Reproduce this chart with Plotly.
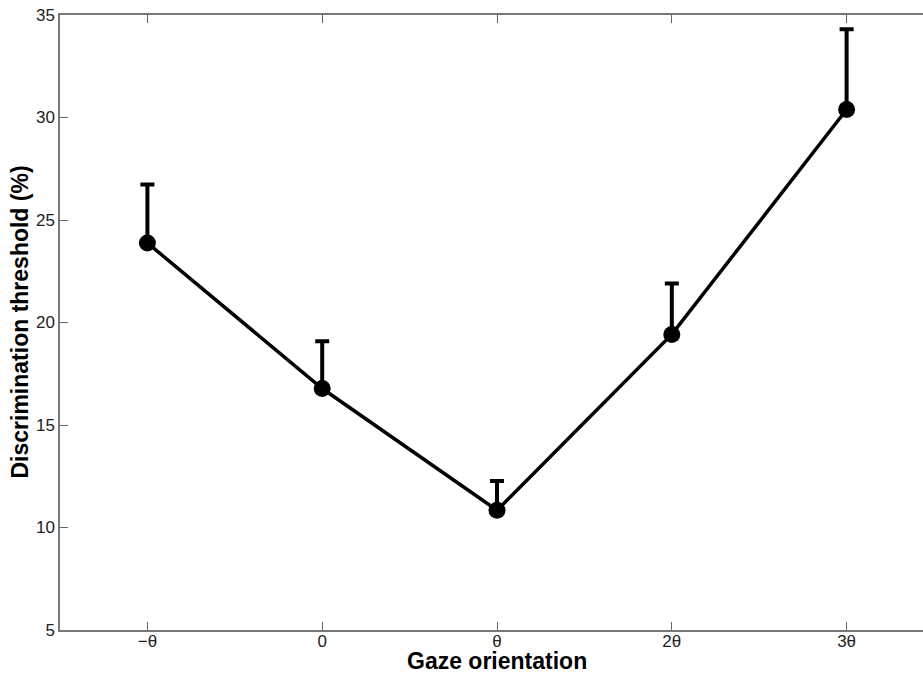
import plotly.graph_objects as go

categories = ["\u2212\u03b8", "0", "\u03b8", "2\u03b8", "3\u03b8"]
x_pos = [0, 1, 2, 3, 4]
thresholds = [23.88, 16.78, 10.84, 19.42, 30.39]
upper_err = [26.73, 19.08, 12.27, 21.90, 34.30]
y_ticks = [5, 10, 15, 20, 25, 30, 35]
x_title = "Gaze orientation"
y_title = "Discrimination threshold (%)"

err_plus = [u - t for u, t in zip(upper_err, thresholds)]

fig = go.Figure()
fig.add_trace(go.Scatter(
    x=x_pos, y=thresholds,
    mode="lines+markers",
    line=dict(color="black", width=3.5),
    marker=dict(color="black", size=17),
    error_y=dict(type="data", symmetric=False, array=err_plus,
                 arrayminus=[0] * len(err_plus),
                 color="black", thickness=4, width=7),
    showlegend=False,
))

axis_font = dict(family="Liberation Sans, Arial, sans-serif", size=17, color="#222")
title_font = dict(family="Liberation Sans, Arial, sans-serif", size=23, color="black")

fig.update_layout(
    width=923, height=674,
    margin=dict(l=60, r=0, t=15, b=44),
    plot_bgcolor="white", paper_bgcolor="white",
    xaxis=dict(
        range=[-0.5, 4.437],
        tickvals=x_pos, ticktext=categories,
        ticks="inside", ticklen=8, tickcolor="#666", tickwidth=1,
        showline=True, linecolor="#777", linewidth=1.5, mirror="ticks",
        showgrid=False, zeroline=False,
        tickfont=axis_font, automargin=False, ticklabelstandoff=-5,
    ),
    yaxis=dict(
        range=[5, 35],
        tickvals=y_ticks,
        ticks="inside", ticklen=8, tickcolor="#666", tickwidth=1,
        showline=True, linecolor="#777", linewidth=1.5, mirror=False,
        showgrid=False, zeroline=False,
        tickfont=axis_font, automargin=False,
    ),
    annotations=[
        dict(text="<b>" + x_title + "</b>", x=2, xref="x", y=0, yref="paper",
             xanchor="center", yanchor="middle", yshift=-31,
             showarrow=False, font=title_font),
        dict(text="<b>" + y_title + "</b>", x=0, xref="paper", y=20, yref="y",
             xanchor="center", yanchor="middle", xshift=-41, textangle=-90,
             showarrow=False, font=title_font),
    ],
)

fig.write_html("out.html", config={"displayModeBar": False})

with open("out.html", "r", encoding="utf-8") as f:
    html = f.read()
html = html.replace("<head>", "<head><style>html,body{margin:0;padding:0;overflow:hidden;}</style>", 1)
with open("out.html", "w", encoding="utf-8") as f:
    f.write(html)
